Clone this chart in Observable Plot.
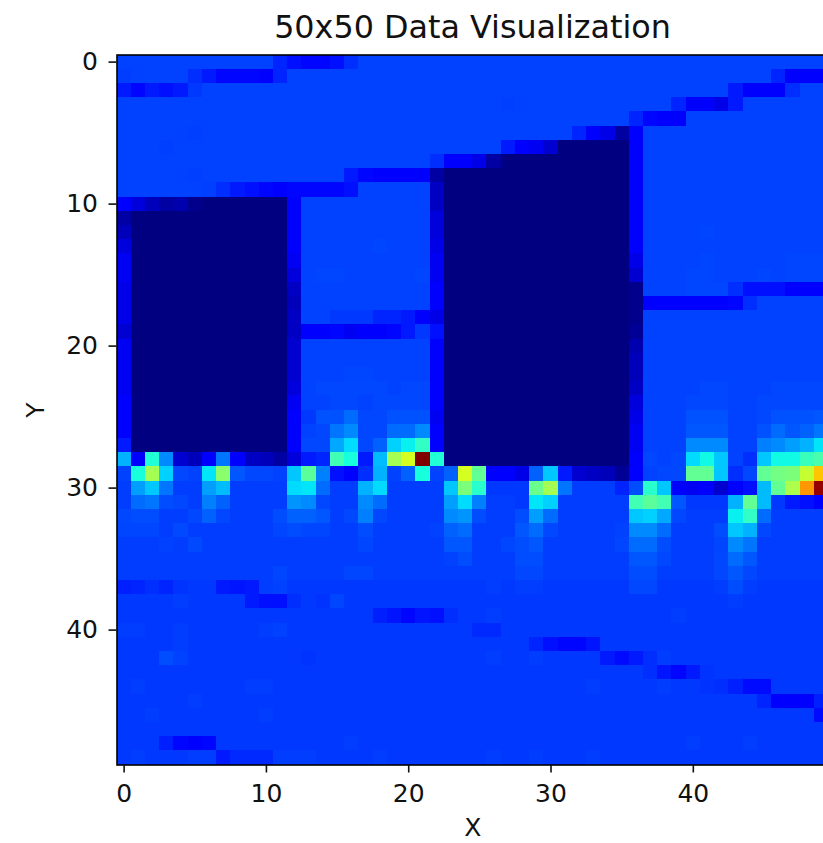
<!DOCTYPE html>
<html>
<head>
<meta charset="utf-8">
<script src="https://cdn.jsdelivr.net/npm/d3@7"></script>
<script src="https://cdn.jsdelivr.net/npm/@observablehq/plot@0.6"></script>
<style>
html,body{margin:0;padding:0;background:#fff;overflow:hidden}
#title{height:44px;width:945px;text-align:center;font:31.8px/54px "DejaVu Sans",sans-serif;color:#111;white-space:nowrap}
svg{display:block}
</style>
</head>
<body>
<div id="title">50x50 Data Visualization</div>
<script>
const xLabel = "X", yLabel = "Y";
const xTicks = [0, 10, 20, 30, 40];
const yTicks = [0, 10, 20, 30, 40];
const jetStops = [0, 11, 12.5, 34, 35, 37.5, 64, 65, 66, 89, 91, 100];
const jetColors = ["#000080","#0000ff","#0000ff","#00dbff","#00e6f8","#14ffe2","#eeff08","#f7f600","#ffec00","#ff1300","#e80000","#800000"];

const row00 = [19,19,19,19,19,19,19,19,19,19, 19,16,14,13,13,14,17,19,19,19, 19,19,19,19,19,19,19,19,19,19, 19,19,19,19,19,19,19,19,19,19, 19,19,19,19,19,19,19,19,19,19];
const row01 = [18.5,19,19,19,19,17,15,13,13,13, 12,16,19,19,19,19,19,19,19,19, 19,19,19,19,19,19,19,19,19,19, 19,19,19,19,19,19,19,19,19,19, 19,19,19,19,19,19,16,12,12,12];
const row02 = [15,13,15,14,15,18,19,19,19,19, 19,19,19,19,19,19,19,19,19,19, 19,19,19,19,19,19,19,19,19,19, 19,19,19,19,19,19,19,19,19,19, 19,19,19,15,12,12,11,17,19,19];
const row03 = [19,19,19,19,19,19,19,19,19,19, 19,19,19,19,19,19,19,19,19,19, 19,19,19,19,19,19,19,18.7,19,19, 19,19,19,19,19,19,19,19,19,16, 12,12,9,15,19,19,19,19,19,19];
const row04 = [19,19,19,19,19,19,19,19,19,19, 19,19,19,19,19,19,19,19,19,19, 19,19,19,19,19,19,19,19,19,19, 19,19,19,19,19,19,16,13,12,12, 19,19,19,19,19,19,19,19,19,19];
const row05 = [19,19,19,19,19,18.7,19,19,19,19, 19,19,19,19,19,19,19,19,19,19, 19,19,19,19,19,19,19,19,19,19, 19,19,16,12,9,3,12,19,19,19, 19,19,19,19,19,19,19,19,19,19];
const row06 = [19,19,19,18.7,19,19,19,19,19,19, 19,19,19,19,19,19,19,19,19,19, 19,19,19,19,19,19,19,15,12,10, 7,0,0,0,0,0,12,19,19,19, 19,19,19,19,19,19,19,19,19,19];
const row07 = [19,19,19,19,19,19,19,19,19,19, 19,19,19,19,19,19,19,19,19,19, 19,19,17,12,12,9,3,0,0,0, 0,0,0,0,0,0,12,19,19,19, 19,19,19,19,19,19,19,19,19,19];
const row08 = [19,19,19,19,19,18.7,19,19,19,19, 19,19,19,19,19,19,15,13,12,12, 12,12,3,0,0,0,0,0,0,0, 0,0,0,0,0,0,12,19,19,19, 19,19,19,19,19,19,19,19,19,19];
const row09 = [19,19,19,19,19,19,18.7,17,15,14, 13,12,13,13,13,13,14,19,19,19, 19,19,6,0,0,0,0,0,0,0, 0,0,0,0,0,0,12,19,19,19, 19,19,19,19,19,19,19,19,19,19];
const row10 = [11,8,5,3,4,1,0,0,0,0, 0,0,12,19,19,19,19,19,19,19, 19,19,6,0,0,0,0,0,0,0, 0,0,0,0,0,0,12,19,19,19, 19,19,19,19,19,19,19,19,19,19];
const row11 = [3,0,0,0,0,0,0,0,0,0, 0,0,11,19,19,19,19,19,19,19, 19,19,8,0,0,0,0,0,0,0, 0,0,0,0,0,0,12,19,19,19, 19,19,19,19,19,19,19,19,19,19];
const row12 = [5,0,0,0,0,0,0,0,0,0, 0,0,11,19,19,19,19,19,19,19, 19,19,8,0,0,0,0,0,0,0, 0,0,0,0,0,0,11,19,19,19, 19,19.3,19,19,19,19,19,19,19,19];
const row13 = [8,0,0,0,0,0,0,0,0,0, 0,0,11,19,19,19,19,19,19.3,19, 19,19,9,0,0,0,0,0,0,0, 0,0,0,0,0,0,11,19,19,19, 19,19,19,19,19,19,19,19,19,19];
const row14 = [10,0,0,0,0,0,0,0,0,0, 0,0,10,19,19,19,19,19,19,19, 19,19,10,0,0,0,0,0,0,0, 0,0,0,0,0,0,9,19,19,19, 19,19.3,19,19,19,19,19,19.3,19.3,19.3];
const row15 = [10,0,0,0,0,0,0,0,0,0, 0,0,8,19,19.3,19.3,19,19,19,19, 19,19.3,10,0,0,0,0,0,0,0, 0,0,0,0,0,0,7,19,19,19, 19.3,19.3,19,19,19,19.3,19,19.3,19.3,19.3];
const row16 = [9,0,0,0,0,0,0,0,0,0, 0,0,6,19,19,19,19,19,19,19, 19,19,12,0,0,0,0,0,0,0, 0,0,0,0,0,0,1,19,19,19, 19.3,19.3,19.3,17,14,14,14,12,12,12];
const row17 = [9,0,0,0,0,0,0,0,0,0, 0,0,5,19,19,19,19,19,19,19, 19,19,12,0,0,0,0,0,0,0, 0,0,0,0,0,0,1,11,12,11, 12,12,12,13,17,19,19,19,19,19];
const row18 = [9,0,0,0,0,0,0,0,0,0, 0,0,6,19,19,18,18,18,16,16, 15,12,9,0,0,0,0,0,0,0, 0,0,0,0,0,0,1,19,19,19, 19,19,19,19,19,19,19,19,19,19];
const row19 = [7,0,0,0,0,0,0,0,0,0, 0,0,6,11,11,13,10,11,12,13, 15,18,14,0,0,0,0,0,0,0, 0,0,0,0,0,0,2,19,19,19, 19,19,19,19,19,19,19,19,19,19];
const row20 = [10,0,0,0,0,0,0,0,0,0, 0,0,7,19,19,19,19,19,19,19, 19,19,12,0,0,0,0,0,0,0, 0,0,0,0,0,0,4,19,19,19, 19,19,19,19,19,19,19,19,19,19];
const row21 = [10,0,0,0,0,0,0,0,0,0, 0,0,7,19,19,19,19,19,19,19, 19,19,12,0,0,0,0,0,0,0, 0,0,0,0,0,0,5,19,19,19, 19,19,19,19,19,19,19,19,19,19];
const row22 = [10,0,0,0,0,0,0,0,0,0, 0,0,7,19,19,19,19.3,19.3,19,19, 19,19,11,0,0,0,0,0,0,0, 0,0,0,0,0,0,5,19,19,19, 19,19,19,19,19,19,19,19,19,19];
const row23 = [10,0,0,0,0,0,0,0,0,0, 0,0,8,19,19.5,19.5,19.5,19.5,19.5,19, 19.5,19.5,11,0,0,0,0,0,0,0, 0,0,0,0,0,0,6,19,19,19, 19,19.5,19.5,19,19,19,19.5,19.5,19.5,19.5];
const row24 = [11,0,0,0,0,0,0,0,0,0, 0,0,10,19,19,19.5,19.5,19,19.5,19.5, 19.5,19.5,11,0,0,0,0,0,0,0, 0,0,0,0,0,0,8,19,19,19, 19.5,19.5,19.5,19,19,19.5,19.5,19.5,19.5,19.5];
const row25 = [11,0,0,0,0,0,0,0,0,0, 0,0,11,18,20.5,20.5,23,19.5,19.5,20.5, 20.5,20.5,10,0,0,0,0,0,0,0, 0,0,0,0,0,0,9,19,19,19, 20.5,20.5,20.5,19,19,19.5,20.5,20.5,20.5,21];
const row26 = [11,0,0,0,0,0,0,0,0,0, 0,0,11,19,19.5,24,26,19.5,19.5,23, 23,26,11,0,0,0,0,0,0,0, 0,0,0,0,0,0,10,19,19,19, 21,21,21,19,19,20.5,23,21,22,24];
const row27 = [15,0,0,0,0,0,0,0,0,0, 0,0,11,19.5,19.5,29,34,19.5,22,33, 36,41,12,0,0,0,0,0,0,0, 0,0,0,0,0,0,10,19,19,19, 26,26,26,19,19,25,26,28,30,35];
const row28 = [30,12,39,26,7,5,11,24,12,6, 5,3,8,15,16,43,38,15,31,55, 61,100,39,0,0,0,0,0,0,0, 0,0,0,0,0,0,11,19.5,19,19.5, 34,37,32,19,17,32,37,37,42,44];
const row29 = [19,38,55,33,19.5,19,35,52,21,19.5, 19.5,19,32,46,25,14,12,17,30,19, 22,38,19,22,61,47,12,11,9,22, 32,15,7,6,5,2,11,19,19.5,19.5, 47,47,32,17,19.5,47,49,50,59,70];
const row30 = [18.5,28,32,24,18.5,18.5,28,31,18.5,18.5, 18.5,18.5,34,35,23,18.5,18.5,30,34,18.5, 18.5,18.5,18.5,32,50,40,18,18,18,48, 55,24,18.5,18.5,18.5,16,20,40,32,11, 10,11,7,11,14,31,47,56,75,98];
const row31 = [18.5,23,24,20,19.5,18.5,25,22,18.5,18.5, 18.5,18.5,27,26,19.5,18.5,18.5,26,23,18.5, 18.5,18.5,18.5,28,34,25,18.5,18.5,18,35, 33,18.5,18.5,18.5,18.5,18.5,43,46,43,21, 18,18,18,30,47,31,18,15,14,12];
const row32 = [19.5,20,20,18.5,18.5,19.5,22,19.5,18.5,18.5, 18.5,20,22,22,21,18.5,19.5,25,19.5,18.5, 18.5,18.5,18.5,26,27,20,18.5,18.5,20,28, 23,18.5,18.5,18.5,18.5,18.5,32,33,29,19.5, 18.5,18.5,18.5,36,41,23,18.5,18.5,18.5,18.5];
const row33 = [19.3,19.3,19.3,18.5,19.7,18.5,18.5,18.5,18.5,18.5, 18.5,19.3,20,19.3,19.3,18.5,18.5,20,18.5,18.5, 18.5,18.5,19,22,23,18.5,18.5,18.5,21,23, 19.5,18.5,18.5,18.5,18.5,19,26,26,23,18.5, 18.5,18.5,20,32,30,19.5,18.5,18.5,18.5,18.5];
const row34 = [18.5,18.5,18.5,19,18.5,19.7,18.5,18.5,18.5,18.5, 18.5,18.5,18.5,18.5,18.5,18.5,18.5,19.3,18.5,18.5, 18.5,18.5,18.5,21,21,18.5,18.5,19.3,20,21, 18.5,18.5,18.5,18.5,18.5,19.3,23,23,20,18.5, 18.5,18.5,19.3,26,24,18.5,18.5,18.5,18.5,18.5];
const row35 = [18.5,18.5,18.5,18.5,18.5,18.5,18.5,18.5,18.5,18.5, 18.5,18.5,18.5,18.5,18.5,18.5,18.5,18.5,18.5,18.5, 18.5,18.5,18.5,19,20,18.5,18.5,18.5,20,20, 18.5,18.5,18.5,18.5,18.5,18.5,21,21,19.5,18.5, 18.5,18.5,19.5,23,21,18.5,18.5,18.5,18.5,18.5];
const row36 = [18.5,18.5,18.5,18.5,18.5,18.5,18.5,18.5,18.5,18.5, 18.5,19.3,18.5,18.5,18.5,18.5,19.3,19.3,18.5,18.5, 18.5,18.5,18.5,18.5,18.5,18.5,18.5,18.5,19.5,19.5, 18.5,18.5,18.5,18.5,18.5,18.5,20,20,18.5,18.5, 18.5,18.5,19.5,21,19.5,18.5,18.5,18.5,18.5,18.5];
const row37 = [15.5,16,17,16,17.5,18,18,15,14.5,15, 18.5,19,18,18,18,18,18,18,18,18, 18,18,18,18,18,18,18.5,18,18.5,18.5, 18,18,18,18,18,18,19.5,19.5,18,18, 18,18,18.5,20,18.5,18,18,18,18,18];
const row38 = [18,18,18,18,18.5,18,18,18,18,15, 14,14,17,18,17.5,19.3,18,18,18,18, 18,18,18,18,18,18,18,18,18,18, 18,18,18,18,18,18,18,18,18,18, 18,18,18,18.5,18,18,18,18,18,18];
const row39 = [18,18,18,18,18,18,18,18,18,18, 18,18,18,18,18,18,18,18,15.5,14.5, 13,14.5,14,17,18,18,18.5,18,18,18, 18,18,18,18,18,18,18,18,18,18.5, 18,18,18,18,18,18,18,18,18,18];
const row40 = [18.5,18.5,18,18,18.5,18,18,18,18,18, 18.5,19,18,18,18,18,18,18,18,18, 18,18,18,18,18,16.5,16.5,18,18,18, 18,18,18,18,18,18,18,18,18,18, 18,18,18,18,18,18,18,18,18,18];
const row41 = [18,18,18,18,18.5,18,18,18,18,18, 18,18,18,18,18,18,18,18,18,18, 18,18,18,18,18,18,18,18,18,16, 14,13,13,14.5,18,18,18,18,18,18, 18,18,18,18,18,18,18,18,18,18];
const row42 = [18,18,18,20,19,18,18,18,18,18, 18,18,18,17.5,18,18,18,18,18,18, 18,18,18,18,18,18,18.5,18,18,18.5, 18,18,18,18,15,13.5,15,17,18.5,18, 18,18,18,18,18,18,18,18,18,18];
const row43 = [18,18,18,18,18,18,18,18,18,18, 18,18,18,18,18,18,18,18,18,18, 18,18,18,18,18,18,18,18,18,18, 18,18,18,18,18,18,18,17,14.5,13, 15,17.5,18,18,18,18,18,18,18,18];
const row44 = [18,18.5,18,18,18,18,18,18,18,18.5, 18.5,18,18,18,18,18,18,18,18,18, 18,18,18,18,18,18,18,18,18,18, 18,18,18,18.5,18,18,18,18,18.5,18, 18,17.5,17,15.5,13.5,13.5,18,18,18,18];
const row45 = [18,18,18,18,18,18.5,18,18,18,18, 18,18,18,18,18,18,18,18,18,18, 18,18,18,18,18,18,18,18,18,18, 18,18,18,18,18,18,18,18,18,18, 18,18,18,18,18,16,12.5,12,12,15.5];
const row46 = [18,18,18.5,18,18,18,18,18,18,18, 18.5,18,18,18,18,18,18,18,18,18, 18,18,18,18,18,18,18,18,18,18, 18,18,18,18,18,18,18,18,18,18, 18,18,18,18,18,18,18,18,18,13.5];
const row47 = [18,18,18,18,18,18,18,18,18,18, 18,18,18,18,18,18,18,18,18,18, 18,18,18,18,18,18,18,18,18,18, 18,18,18,18,18,18,18,18,18,18, 18,18,18,18,18,18,18,18,18,18];
const row48 = [18,18,18,15.5,13,12,13,18,18,18, 18,18,18,18,18,18,18.5,18,18,18, 18,18,18,18,18,18,18,18,18,18, 18,18,18,18,18,18,18,18,18,18, 18.5,18,18,18,18.5,18,18,18,18,18];
const row49 = [18,18.5,18,18,18,18.5,18.5,15,16.5,16.5, 16.5,18.5,18.5,18.5,18,18,18,18,18.5,18, 18,18,18,18,18,18,18.5,18,18,18.5, 18,18,18,18.5,18,18,18,18,18,18, 18,18,18,18,18,18,18,18,18,18];

const rows = [row00,row01,row02,row03,row04,row05,row06,row07,row08,row09,
  row10,row11,row12,row13,row14,row15,row16,row17,row18,row19,
  row20,row21,row22,row23,row24,row25,row26,row27,row28,row29,
  row30,row31,row32,row33,row34,row35,row36,row37,row38,row39,
  row40,row41,row42,row43,row44,row45,row46,row47,row48,row49];

const cells = rows.flatMap((r, y) => r.map((v, x) => ({x, y, v})));
const font = '"DejaVu Sans", sans-serif';

const chart = Plot.plot({
  width: 823,
  height: 799,
  marginTop: 10.5,
  marginBottom: 78.5,
  marginLeft: 116.5,
  marginRight: -5,
  style: {fontFamily: font, background: "#fff", color: "#111"},
  x: {type: "band", domain: d3.range(50), padding: 0, round: false},
  y: {type: "band", domain: d3.range(50), padding: 0, round: false},
  color: {type: "linear", domain: jetStops, range: jetColors, interpolate: "rgb", legend: false},
  marks: [
    Plot.cell(cells, {x: "x", y: "y", fill: "v", inset: 0, shapeRendering: "crispEdges"}),
    Plot.frame({stroke: "#000", strokeWidth: 1.6}),
    Plot.axisX({ticks: xTicks, tickSize: 8, tickPadding: 11, strokeWidth: 1.6, fontSize: 25, label: xLabel, labelAnchor: "center", labelArrow: "none", labelOffset: 71, tickFormat: String}),
    Plot.axisY({ticks: yTicks, tickSize: 8, tickPadding: 11, strokeWidth: 1.6, fontSize: 25, label: yLabel, labelAnchor: "center", labelArrow: "none", labelOffset: 91, tickFormat: String})
  ]
});
document.body.appendChild(chart);
</script>
</body>
</html>
